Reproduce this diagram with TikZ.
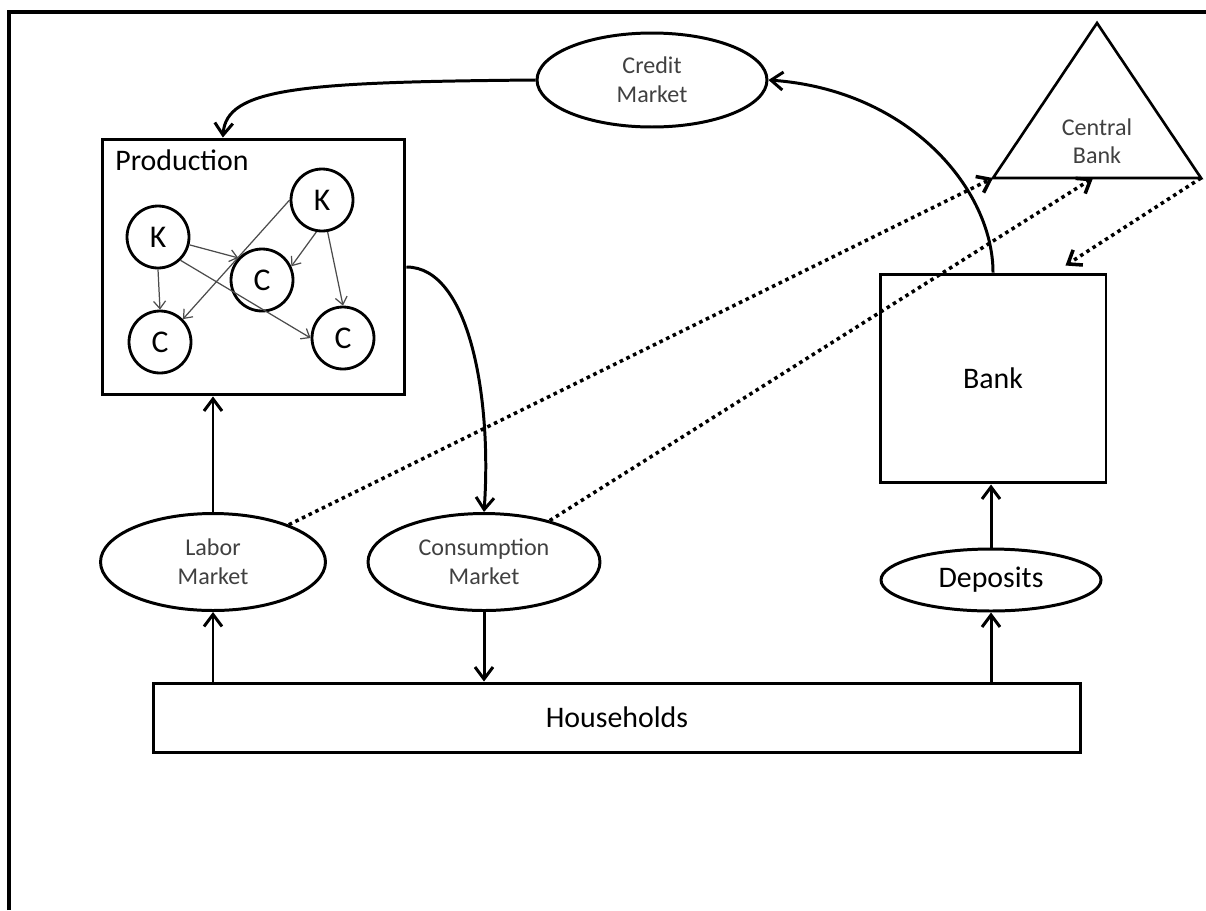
\documentclass[tikz,border=0pt]{standalone}
\usepackage{fontspec}
\setmainfont{Carlito}
\usetikzlibrary{arrows.meta, positioning, shapes.geometric, calc}

\begin{document}
\begin{tikzpicture}[
  x=0.02cm, y=-0.02cm,
  font=\fontsize{17}{20}\selectfont,
  box/.style={rectangle, draw, line width=1.7pt, align=center},
  mkt/.style={ellipse, draw, line width=1.7pt, align=center, inner sep=0pt,
              font=\fontsize{13.7}{16.5}\selectfont, text=black!75},
  firm/.style={circle, draw, line width=1.6pt, minimum size=1.24cm, inner sep=0pt,
               font=\fontsize{18}{20}\selectfont},
  arr/.style={-{Straight Barb[length=2.4mm, width=3.6mm]}, line width=1.7pt},
  link/.style={-{Straight Barb[length=1.5mm, width=2.4mm]}, line width=0.7pt, draw=black!70},
  dots/.style={-{Straight Barb[length=2.4mm, width=3.6mm]}, line width=2pt,
               dash pattern=on 2pt off 2.2pt}
]
\useasboundingbox (0,0) rectangle (1206,910);
%% frame
\draw[line width=2pt] (9,910) |- (1206,12);
%% production
\node[box, minimum width=6.06cm, minimum height=5.12cm] (p_prod) at (253.5,267) {};
\node[anchor=base west, inner sep=0pt] (p_title) at (115,170) {Production};
\node[firm] (p_k1)   at (158,237) {K};
\node[firm] (p_k2)   at (322,200) {K};
\node[firm] (p_cmid) at (262,280) {C};
\node[firm] (p_cbl)  at (160,342) {C};
\node[firm] (p_cbr)  at (343,338) {C};
%% markets
\node[mkt, minimum width=4.6cm, minimum height=1.88cm]  (m_credit) at (652,80)  {Credit\\Market};
\node[mkt, minimum width=4.5cm, minimum height=1.94cm]  (m_labor)  at (213,562) {Labor\\Market};
\node[mkt, minimum width=4.64cm, minimum height=1.94cm] (m_cons)   at (484,562) {Consumption\\Market};
\node[mkt, minimum width=4.4cm, minimum height=1.24cm, text=black,
      font=\fontsize{17}{20}\selectfont] (m_dep) at (991,580) {Deposits};
%% bank, households
\node[box, minimum width=4.52cm, minimum height=4.18cm]  (b_bank) at (993,378.5) {Bank};
\node[box, minimum width=18.56cm, minimum height=1.38cm] (h_hh)   at (617,717.5) {Households};
%% central bank
\coordinate (cb_top)   at (1097,23);
\coordinate (cb_left)  at (993,178);
\coordinate (cb_right) at (1201,178);
\coordinate (cb_base)  at (1093,178);
\draw[line width=1.5pt] (cb_top) -- (cb_right) -- (cb_left) -- cycle;
\node[align=center, font=\fontsize{13.7}{16}\selectfont, text=black!75] (cb_label)
    at (1097,141) {Central\\Bank};
%% links inside production
\draw[link] (p_k1.south) -- (p_cbl.north);
\draw[link] (p_k1.-14) -- (p_cmid.137);
\draw[link] (p_k1.-46) -- (p_cbr.180);
\draw[link] (p_k2.west) -- (p_cbl.north east);
\draw[link] (p_k2.-100) -- (p_cmid.25);
\draw[link] (p_k2.-80) -- (p_cbr.north);
%% flows
\draw[arr] (m_credit.west) .. controls (300,82) and (226,88) ..
    ($(p_prod.north west)!0.4!(p_prod.north east)$);
\draw[arr] (b_bank.north) .. controls (993,190) and (910,90) .. (m_credit.east);
\draw[arr] (p_prod.east) .. controls (470,267) and (492,400) .. (m_cons.north);
\draw[arr] (m_labor.north) -- (m_labor.north |- p_prod.south);
\draw[arr] (m_labor.south |- h_hh.north) -- (m_labor.south);
\draw[arr] (m_cons.south) -- (m_cons.south |- h_hh.north);
\draw[arr] (m_dep.south |- h_hh.north) -- (m_dep.south);
\draw[arr] (m_dep.north) -- (m_dep.north |- b_bank.south);
%% dotted links to central bank
\draw[dots] (m_labor) -- (cb_left);
\draw[dots] (m_cons) -- (cb_base);
\draw[dots] (cb_right) -- ($(b_bank.north east)+(-42,-7)$);
\end{tikzpicture}
\end{document}
